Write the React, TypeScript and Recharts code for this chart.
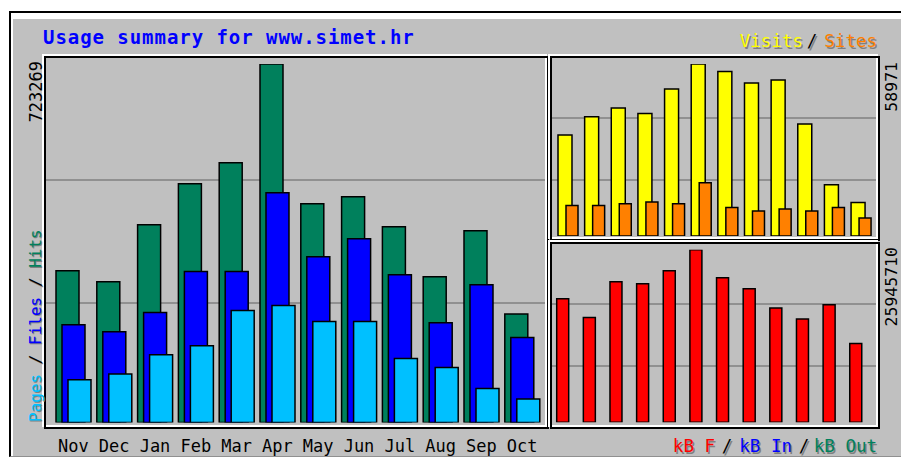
import React from 'react';
import { BarChart, Bar, XAxis, YAxis, CartesianGrid } from 'recharts';

const months = ['Nov', 'Dec', 'Jan', 'Feb', 'Mar', 'Apr', 'May', 'Jun', 'Jul', 'Aug', 'Sep', 'Oct'];
const hits = [306200, 284000, 399000, 481700, 524000, 723269, 441300, 455500, 394900, 294000, 386900, 218800];
const files = [197200, 183100, 222000, 304700, 304700, 463500, 334400, 370700, 298100, 201200, 277900, 171500];
const pages = [86200, 97700, 136700, 154800, 226000, 236100, 203900, 203900, 129200, 111100, 68700, 47300];
const visits = [34610, 40890, 43870, 42020, 50390, 58971, 56420, 52440, 53470, 38380, 17570, 11500];
const sites = [10470, 10470, 11060, 11640, 11060, 18260, 9790, 8560, 9240, 8560, 9790, 6160];
const kbytes = [18575000, 15763000, 21133000, 20832000, 22787000, 25945710, 21734000, 20080000, 17177000, 15522000, 17673000, 11852000];

const maxHits = 723269;
const maxVisits = 58971;
const maxKB = 25945710;

const mainData = months.map((m, i) => ({ month: m, hits: hits[i], files: files[i], pages: pages[i] }));
const visitData = months.map((m, i) => ({ month: m, visits: visits[i], sites: sites[i] }));
const kbData = months.map((m, i) => ({ month: m, kb: kbytes[i] }));

const HITS = '#00805C';
const FILES = '#0000FF';
const PAGES = '#00C0FF';
const VISITS = '#FFFF00';
const SITES = '#FF8000';
const KB = '#FF0000';
const BG = '#C0C0C0';
const GRID = '#808080';
const MONO = '"DejaVu Sans Mono", monospace';

const MonthTick = (props: any) => {
  const { x, y, payload } = props;
  return (
    <text x={x} y={y + 29.5} textAnchor="middle" fontFamily={MONO} fontSize={17} fill="#000">
      {payload.value}
    </text>
  );
};

const Frame = ({ left, top, width, height }: any) => (
  <>
    <div style={{ position: 'absolute', left: left - 2, top: top - 2, width, height, boxSizing: 'border-box', border: '2px solid #fff' }} />
    <div style={{ position: 'absolute', left, top, width, height, boxSizing: 'border-box', border: '2px solid #000' }} />
  </>
);

const ST = ({ x, y, color, anchor = 'start', size = 17.5, children }: any) => (
  <>
    <text x={x + 1.5} y={y + 1.5} fill="#808080" textAnchor={anchor} fontFamily={MONO} fontSize={size} style={{ whiteSpace: 'pre' }}>{children}</text>
    <text x={x} y={y} fill={color} textAnchor={anchor} fontFamily={MONO} fontSize={size} style={{ whiteSpace: 'pre' }}>{children}</text>
  </>
);

export default function App() {
  return (
    <div style={{ position: 'absolute', left: 0, top: 0, width: 901, height: 458, background: '#fff', overflow: 'hidden' }}>
      <div style={{ position: 'absolute', left: 9, top: 11, width: 892, height: 446, background: BG, boxSizing: 'border-box', borderTop: '2px solid #000', borderLeft: '2px solid #000', borderBottom: '1px solid #909090' }} />
      <div style={{ position: 'absolute', left: 11, top: 13, width: 890, height: 6, background: '#fff' }} />
      <div style={{ position: 'absolute', left: 11, top: 13, width: 2, height: 443, background: '#fff' }} />

      <div style={{ position: 'absolute', left: 0, top: 0 }}>
        <BarChart width={560} height={458} data={mainData} margin={{ top: 64, right: 12, bottom: 5.5, left: 46 }} barSize={23} barGap={-17}>
          <CartesianGrid horizontal vertical={false} horizontalPoints={[180, 303]} stroke={GRID} strokeWidth={1.5} />
          <XAxis dataKey="month" height={30} axisLine={false} tickLine={false} tickSize={0} tickMargin={0} interval={0} padding={{ left: 7, right: 5.4 }} tick={<MonthTick />} />
          <YAxis hide domain={[0, maxHits]} allowDataOverflow />
          <Bar dataKey="hits" fill={HITS} stroke="#000" strokeWidth={1.5} isAnimationActive={false} />
          <Bar dataKey="files" fill={FILES} stroke="#000" strokeWidth={1.5} isAnimationActive={false} />
          <Bar dataKey="pages" fill={PAGES} stroke="#000" strokeWidth={1.5} isAnimationActive={false} />
        </BarChart>
      </div>

      <div style={{ position: 'absolute', left: 540, top: 40 }}>
        <BarChart width={350} height={210} data={visitData} margin={{ top: 24, right: 13, bottom: 14, left: 12 }} barGap={-6}>
          <CartesianGrid horizontal vertical={false} horizontalPoints={[78, 140]} stroke={GRID} strokeWidth={1.5} />
          <XAxis dataKey="month" hide padding={{ left: 3, right: 2.3 }} />
          <YAxis hide domain={[0, maxVisits]} allowDataOverflow />
          <Bar dataKey="visits" barSize={14} fill={VISITS} stroke="#000" strokeWidth={1.5} isAnimationActive={false} />
          <Bar dataKey="sites" barSize={12} fill={SITES} stroke="#000" strokeWidth={1.5} isAnimationActive={false} />
        </BarChart>
      </div>

      <div style={{ position: 'absolute', left: 540, top: 240 }}>
        <BarChart width={350} height={200} data={kbData} margin={{ top: 9.75, right: 12, bottom: 17.75, left: 9.7 }}>
          <CartesianGrid horizontal vertical={false} horizontalPoints={[64, 126]} stroke={GRID} strokeWidth={1.5} />
          <XAxis dataKey="month" hide padding={{ left: 0, right: 8.6 }} />
          <YAxis hide domain={[0, maxKB]} allowDataOverflow />
          <Bar dataKey="kb" barSize={12} fill={KB} stroke="#000" strokeWidth={1.5} isAnimationActive={false} />
        </BarChart>
      </div>

      <Frame left={44} top={56} width={505} height={373} />
      <Frame left={550} top={56} width={330} height={185} />
      <Frame left={550} top={242} width={330} height={187} />

      <svg width={901} height={458} style={{ position: 'absolute', left: 0, top: 0, pointerEvents: 'none' }}>
        <text x={43} y={44} fill="#0000FF" fontFamily={MONO} fontWeight="bold" fontSize={19} letterSpacing={0.95}>
          Usage summary for www.simet.hr
        </text>

        <g transform="translate(42,61) rotate(-90)">
          <text x={0} y={0} textAnchor="end" fontFamily={MONO} fontSize={17} fill="#000">{String(maxHits)}</text>
        </g>
        <g transform="translate(896.5,62) rotate(-90)">
          <text x={0} y={0} textAnchor="end" fontFamily={MONO} fontSize={16.5} fill="#000">{String(maxVisits)}</text>
        </g>
        <g transform="translate(896.5,247) rotate(-90)">
          <text x={0} y={0} textAnchor="end" fontFamily={MONO} fontSize={16.5} fill="#000">{String(maxKB)}</text>
        </g>

        <g transform="translate(40.5,422) rotate(-90)">
          <text x={-1} y={1} fontFamily={MONO} fontSize={16} fill="#808080" style={{ whiteSpace: 'pre' }}>Pages / Files / Hits</text>
          <text x={0} y={0} fontFamily={MONO} fontSize={16} style={{ whiteSpace: 'pre' }}>
            <tspan fill={PAGES}>Pages</tspan>
            <tspan fill="#000"> / </tspan>
            <tspan fill={FILES}>Files</tspan>
            <tspan fill="#000"> / </tspan>
            <tspan fill={HITS}>Hits</tspan>
          </text>
        </g>

        <ST x={803} y={47} color={VISITS} anchor="end">Visits</ST>
        <ST x={812} y={47} color="#000" anchor="middle">/</ST>
        <ST x={877} y={47} color={SITES} anchor="end">Sites</ST>

        <ST x={715} y={452} color={KB} anchor="end">kB F</ST>
        <ST x={727} y={452} color="#000" anchor="middle">/</ST>
        <ST x={792} y={452} color={FILES} anchor="end">kB In</ST>
        <ST x={804} y={452} color="#000" anchor="middle">/</ST>
        <ST x={877} y={452} color={HITS} anchor="end">kB Out</ST>
      </svg>
    </div>
  );
}
